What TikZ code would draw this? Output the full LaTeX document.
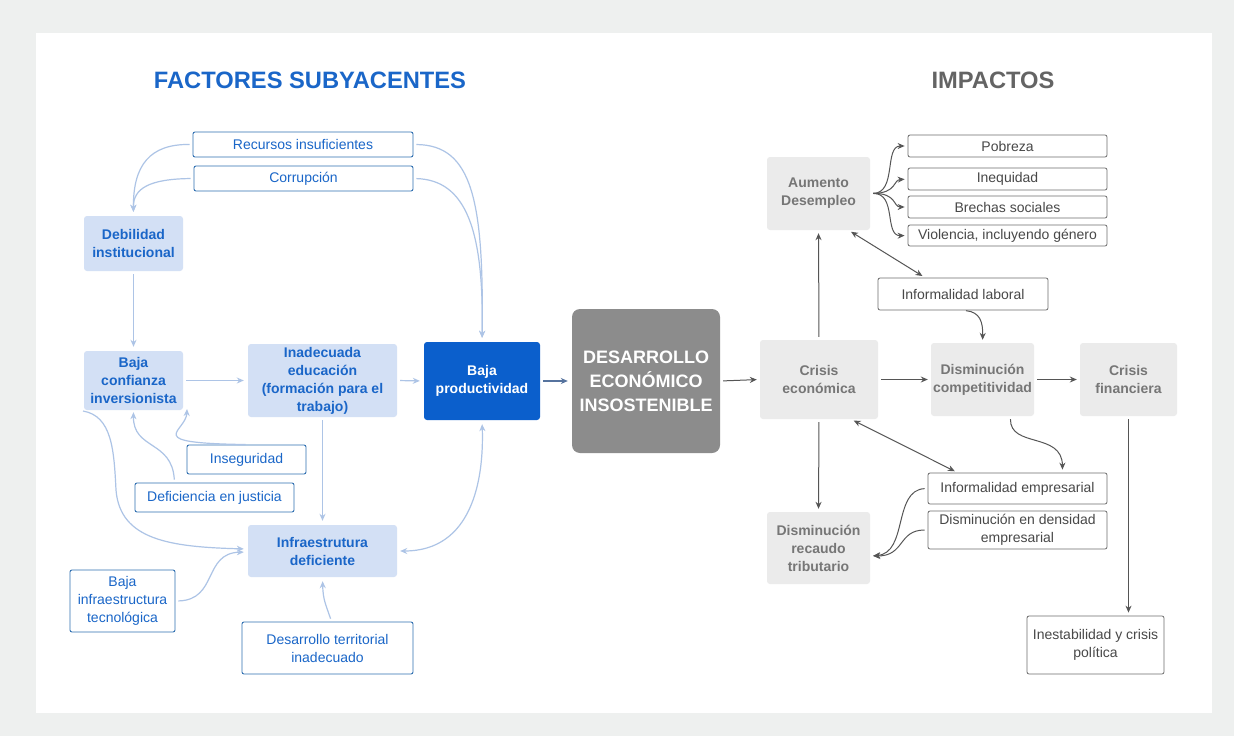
\documentclass[tikz,border=0pt]{standalone}
\usepackage{fontspec}
\setmainfont{Liberation Sans}
\usetikzlibrary{arrows.meta}
\definecolor{bgout}{HTML}{EEF0EF}
\definecolor{tblue}{HTML}{1A66C8}
\definecolor{lfill}{HTML}{D3E0F5}
\definecolor{lconn}{HTML}{ADC4E6}
\definecolor{obord}{HTML}{2F6FB0}
\definecolor{dblue}{HTML}{0B5FCC}
\definecolor{dconn}{HTML}{56739E}
\definecolor{gfill}{HTML}{EBEBEB}
\definecolor{gtext}{HTML}{767676}
\definecolor{gbord}{HTML}{6E6E6E}
\definecolor{gconn}{HTML}{555555}
\definecolor{bigg}{HTML}{8C8C8C}
\begin{document}
\begin{tikzpicture}[x=1pt,y=-1pt,
  lbox/.style={draw=obord, line width=0.9pt, rounded corners=2pt, text=tblue, font=\fontsize{14}{18}\selectfont, align=center, inner sep=0pt},
  fbox/.style={fill=lfill, rounded corners=3pt, text=tblue, font=\bfseries\fontsize{14}{18}\selectfont, align=center, inner sep=0pt},
  gbox/.style={fill=gfill, rounded corners=3pt, text=gtext, font=\bfseries\fontsize{14}{18}\selectfont, align=center, inner sep=0pt},
  obox/.style={draw=gbord, line width=0.8pt, rounded corners=2pt, text=gconn!85!black, font=\fontsize{14}{18}\selectfont, align=center, inner sep=0pt},
  lb/.style={draw=lconn, line width=1.2pt, -{Stealth[length=7pt,width=6pt]}, shorten <=3pt, shorten >=4pt},
  lbb/.style={lb, {Stealth[length=7pt,width=6pt]}-{Stealth[length=7pt,width=6pt]}},
  gk/.style={draw=gconn, line width=1pt, -{Stealth[length=7pt,width=6pt]}, shorten <=3pt, shorten >=3pt},
  gkk/.style={gk, {Stealth[length=7pt,width=6pt]}-{Stealth[length=7pt,width=6pt]}}
]
\fill[bgout] (0,0) rectangle (1234,736);
\fill[white] (36,33) rectangle (1212,713);
\useasboundingbox (0,0) rectangle (1234,736);

% titles
\node[text=tblue, font=\bfseries\fontsize{23.7}{28}\selectfont] (t1) at (310,80) {FACTORES SUBYACENTES};
\node[text=gtext!85!black, font=\bfseries\fontsize{23.7}{28}\selectfont] (t2) at (993,80) {IMPACTOS};

% left nodes
\node[lbox, minimum width=220pt, minimum height=25pt] (rec) at (303,144.5) {Recursos insuficientes};
\node[lbox, minimum width=219pt, minimum height=25pt] (cor) at (303.5,178.5) {Corrupción};
\node[fbox, minimum width=99pt, minimum height=55pt] (deb) at (133.5,243.5) {Debilidad\\institucional};
\node[fbox, minimum width=99pt, minimum height=59pt] (bci) at (133.5,380.5) {Baja\\confianza\\inversionista};
\node[fbox, minimum width=149pt, minimum height=73pt] (ine) at (322.5,380.5) {Inadecuada\\educación\\(formación para el\\trabajo)};
\node[fill=dblue, rounded corners=3pt, text=white, font=\bfseries\fontsize{14}{18}\selectfont, align=center, inner sep=0pt, minimum width=116pt, minimum height=78pt] (bp) at (482,381) {Baja\\productividad};
\node[lbox, minimum width=119pt, minimum height=29pt] (ins) at (246.5,459.5) {Inseguridad};
\node[lbox, minimum width=159pt, minimum height=29pt] (dj) at (214.5,497.5) {Deficiencia en justicia};
\node[fbox, minimum width=149pt, minimum height=52pt] (inf) at (322.5,551) {Infraestrutura\\deficiente};
\node[lbox, minimum width=105pt, minimum height=62pt] (bit) at (122.5,601) {Baja\\infraestructura\\tecnológica};
\node[lbox, minimum width=171pt, minimum height=52pt] (dti) at (327.5,648) {Desarrollo territorial\\inadecuado};

% center
\node[fill=bigg, rounded corners=8pt, text=white, font=\bfseries\fontsize{18}{24}\selectfont, align=center, inner sep=0pt, minimum width=148pt, minimum height=144pt] (des) at (646,381) {DESARROLLO\\ECONÓMICO\\INSOSTENIBLE};

% right nodes
\node[gbox, minimum width=103pt, minimum height=73pt] (aum) at (818.5,193.5) {Aumento\\Desempleo};
\node[obox, minimum width=199pt, minimum height=22pt] (pob) at (1007.5,146) {Pobreza};
\node[obox, minimum width=199pt, minimum height=22pt] (ineq) at (1007.5,179) {Inequidad};
\node[obox, minimum width=199pt, minimum height=22pt] (bre) at (1007.5,207) {Brechas sociales};
\node[obox, minimum width=199pt, minimum height=21pt] (vio) at (1007.5,235.5) {Violencia, incluyendo género};
\node[obox, minimum width=170pt, minimum height=32pt] (inl) at (963,294) {Informalidad laboral};
\node[gbox, minimum width=118pt, minimum height=79pt] (cre) at (819,379.5) {Crisis\\económica};
\node[gbox, minimum width=103pt, minimum height=73pt] (dco) at (982.5,379.5) {Disminución\\competitividad};
\node[gbox, minimum width=97pt, minimum height=73pt] (cfi) at (1128.5,379.5) {Crisis\\financiera};
\node[obox, minimum width=179pt, minimum height=31pt] (iem) at (1017.5,488.5) {Informalidad empresarial};
\node[obox, minimum width=179pt, minimum height=38pt] (dde) at (1017.5,530) {Disminución en densidad\\empresarial};
\node[gbox, minimum width=103pt, minimum height=72pt] (drt) at (818.5,548) {Disminución\\recaudo\\tributario};
\node[obox, minimum width=137pt, minimum height=58pt] (icp) at (1095.5,645) {Inestabilidad y crisis\\política};

% left connectors
\draw[lb] (rec.west) .. controls (150,144) and (133,165) .. (deb.north);
\draw[lb] (cor.west) .. controls (150,179) and (133,188) .. (deb.north);
\draw[lb] (rec.east) .. controls (472,145) and (484,200) .. (bp.north);
\draw[lb] (cor.east) .. controls (466,180) and (484,230) .. (bp.north);
\draw[lb] (deb.south) -- (bci.north);
\draw[lb] (bci.east) -- (ine.west);
\draw[lb] (ine.east) -- (bp.west);
\draw[lb, draw=dconn] (bp.east) -- (des.west);
\draw[gk] (des.east) -- (cre.west);
\coordinate (bciSE) at (187,409);
\draw[lb, shorten <=1pt, shorten >=0pt] (ins.north) .. controls (140,443) and (186,432) .. (bciSE);
\draw[lb, shorten >=2pt] ([xshift=-40pt]dj.north) .. controls (172,440) and (133,450) .. (bci.south);
\coordinate (bciSW) at (83,411);
\draw[lb, shorten <=0pt] (bciSW) .. controls (112,416) and (114,450) .. (116,490) .. controls (120,540) and (170,547) .. ([yshift=2pt]inf.west);
\draw[lb] (bit.east) .. controls (218,600) and (203,553) .. ([yshift=-1pt]inf.west);
\draw[lb] (ine.south) -- (inf.north);
\draw[lb] ([xshift=4pt]dti.north) .. controls (326,605) and (323,600) .. (inf.south);
\draw[lbb] (inf.east) .. controls (472,551) and (484,480) .. (bp.south);

% right connectors
\draw[gk] (cre.north) -- (aum.south);
\draw[gk] (aum.east) .. controls (897,193) and (884,146) .. (pob.west);
\draw[gk] (aum.east) .. controls (897,193) and (893,180) .. (ineq.west);
\draw[gk] (aum.east) .. controls (897,193) and (893,207) .. (bre.west);
\draw[gk] (aum.east) .. controls (897,193) and (884,236) .. (vio.west);
\draw[gkk] ([xshift=30pt]aum.south) -- ([xshift=-38pt]inl.north);
\draw[gk] (inl.south) .. controls (980,312) and (983,322) .. (dco.north);
\draw[gk] (cre.east) -- (dco.west);
\draw[gk] (dco.east) -- (cfi.west);
\draw[gkk] ([xshift=32pt]cre.south) -- ([xshift=-60pt]iem.north);
\draw[gk] ([xshift=28pt]dco.south) .. controls (1010,448) and (1062,432) .. ([xshift=45pt]iem.north);
\draw[gk] (cre.south) -- (drt.north);
\draw[gk] (iem.west) .. controls (893,490) and (908,553) .. ([yshift=-8pt]drt.east);
\draw[gk] (dde.west) .. controls (898,530) and (905,556) .. ([yshift=-8pt]drt.east);
\draw[gk] (cfi.south) -- (cfi.south |- icp.north);
\end{tikzpicture}
\end{document}
